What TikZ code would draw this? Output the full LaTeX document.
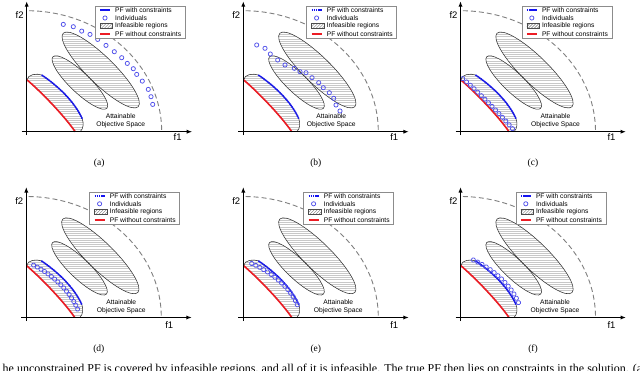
\documentclass[tikz,border=0pt]{standalone}
\usepackage{fontspec}
\setmainfont{Liberation Serif}
\setsansfont{Liberation Sans}
\usetikzlibrary{arrows.meta,decorations.markings}
\definecolor{pfblue}{RGB}{20,20,240}
\definecolor{pfred}{RGB}{236,28,36}
\definecolor{indblue}{RGB}{80,80,235}
\definecolor{hatchgray}{RGB}{200,200,200}
\tikzset{
  axisline/.style={line width=1.1pt,-{Latex[length=5.5pt,width=4.2pt]}},
  arcdash/.style={draw=black!50,line width=0.9pt,dash pattern=on 5pt off 3pt},
  infeasline/.style={draw=black!80,line width=0.55pt},
  hatchline/.style={draw=hatchgray,line width=0.35pt},
  bluepf/.style={draw=pfblue,line width=1.6pt,dash pattern=on 1.6pt off 0.5pt},
  redpf/.style={draw=pfred,line width=1.6pt},
  redleg/.style={draw=pfred,line width=1.8pt},
  indiv/.style={draw=indblue,line width=0.75pt},
  legbox/.style={draw=black!45,line width=0.5pt,fill=white,minimum width=90pt,minimum height=32.7pt,inner sep=0pt,anchor=north west},
  legtxt/.style={font=\sffamily\fontsize{6.7}{7}\selectfont,inner sep=0pt,anchor=west},
  axlabel/.style={font=\sffamily\fontsize{9.5}{10}\selectfont,inner sep=0pt},
  regtxt/.style={font=\sffamily\fontsize{6.7}{7.6}\selectfont,align=center,inner sep=0pt},
  captxt/.style={font=\fontsize{9.5}{10}\selectfont,inner sep=0pt},
  indmarks/.style={decorate,decoration={markings,mark=between positions 0 and 1 step #1 with {\draw[indiv] (0,0) circle[radius=2.1];}}}
}
\newcommand\hatchregion[1]{%
  \begin{scope}\clip #1;
    \foreach \hy in {0.6,2.8,...,130} {\draw[hatchline] (-6,\hy) -- (170,\hy);}
  \end{scope}
  \draw[infeasline] #1;}
% #1 x, #2 y (image), #3 letter, #4 legend left, #5 region text x, #6 f1 position, #7 individuals
\newcommand\drawpanel[7]{%
\begin{scope}[shift={(#1,-#2)}]
  \coordinate (#3-ybot) at (0,-3.5);
  \coordinate (#3-ytip) at (0,130.5);
  \coordinate (#3-xbot) at (-5,0);
  \coordinate (#3-xtip) at (165.5,0);
  \draw[arcdash] (89:135 and 121) arc[start angle=89,end angle=0,x radius=135,y radius=121];
  \hatchregion{[rotate around={-44.4:(74,61.7)}] (74,61.7) ellipse[x radius=52.5,y radius=13.5]}
  \hatchregion{[rotate around={-43.7:(53.2,49.2)}] (53.2,49.2) ellipse[x radius=37.3,y radius=10]}
  \hatchregion{(0.3,51.8) .. controls (12,42) and (36,18) .. (48.5,0) -- (53.5,0)
     .. controls (57,3) and (57,9) .. (55.5,13)
     .. controls (48,30) and (31,46) .. (15,56.7)
     .. controls (10,58.5) and (1,57.5) .. (0.3,51.8) -- cycle}
  \draw[redpf] (0.3,51.8) .. controls (12,42) and (36,18) .. (48.5,0);
  \draw[bluepf] (15,56.7) .. controls (31,46) and (48,30) .. (55.5,13);
  #7
  \draw[axisline] (#3-ybot) -- (#3-ytip);
  \draw[axisline] (#3-xbot) -- (#3-xtip);
  \node[axlabel] (#3-f2) at (-7,116.5) {f2};
  \node[axlabel] (#3-f1) at (#6) {f1};
  \node[legbox] (#3-leg) at (#4,126) {};
  \draw[bluepf] ({#4+5.3},121.8) -- ({#4+15.3},121.8);
  \node[legtxt] (#3-t1) at ({#4+20.3},121.8) {PF with constraints};
  \draw[indiv] ({#4+10.3},113.7) circle[radius=2.1];
  \node[legtxt] (#3-t2) at ({#4+20.3},113.7) {Individuals};
  \begin{scope}
    \clip ({#4+5.3},103.1) rectangle ({#4+18},108.1);
    \foreach \hd in {-6,-3,...,15} {\draw[draw=black!55,line width=0.4pt] ({#4+5.3+\hd},102) -- ++(7,7);}
  \end{scope}
  \draw[draw=black!70,line width=0.5pt] ({#4+5.3},103.1) rectangle ({#4+18},108.1);
  \node[legtxt] (#3-t3) at ({#4+20.3},105.6) {Infeasible regions};
  \draw[redleg] ({#4+5.3},97.5) -- ({#4+15.3},97.5);
  \node[legtxt] (#3-t4) at ({#4+20.3},97.5) {PF without constraints};
  \node[regtxt] (#3-att) at (#5,11) {Attainable\\Objective Space};
  \node[captxt] (#3-cap) at (72.5,-32) {(#3)};
\end{scope}}

\begin{document}
\begin{tikzpicture}[x=1pt,y=1pt]
\useasboundingbox (0,-370) rectangle (640,0);
\clip (0,-370) rectangle (640,0);
\fill[white] (0,-370) rectangle (640,0);

\drawpanel{26.7}{131.7}{a}{68}{94}{151,-5.5}{%
  \foreach \px/\py in {36.6/107.3,46.6/105,55/100.6,63.3/97.3,71/92.3,79.3/86.3,87.6/80,95/74,100.6/68.3,106.6/63,110/57.3,115.6/50.6,121.6/42.3,124.3/35,126/27.3}
    {\draw[indiv] (\px,\py) circle[radius=2.1];}}

\drawpanel{243.3}{131.7}{b}{63}{88}{151,-5.5}{%
  \foreach \px/\py in {13.4/86.7,21.7/83.4,27/77.7,34.4/71.7,41.7/66.7,51/63.4,56.7/60,62.7/59,68.7/54,75.4/49,80/44,86/39,90.4/33.4,92.7/26.7,96.7/20.7}
    {\draw[indiv] (\px,\py) circle[radius=2.1];}}

\drawpanel{460.5}{131.7}{c}{61}{95}{151,-5.5}{%
  \path[indmarks=0.0714] (2.2,53) .. controls (14,43.5) and (38,19.5) .. (52,3);}

\drawpanel{26.3}{317.5}{d}{63}{95}{143,-8}{%
  \path[indmarks=0.06666] (7.3,52.4) .. controls (22,45) and (42,30) .. (51.3,8.4);}

\drawpanel{243.3}{317.5}{e}{60}{95}{151,-8}{%
  \path[indmarks=0.0714] (8.4,54) .. controls (25,47) and (46,32) .. (54,12.7);}

\drawpanel{460.5}{317.5}{f}{55}{94.5}{151,-8}{%
  \path[indmarks=0.0769] (12.8,57.5) .. controls (30,50) and (50,34) .. (58,14.8);}

\node[anchor=base west,inner sep=0pt,font=\fontsize{12}{14}\selectfont] (btext) at (2.5,-372)
  {he unconstrained PF is covered by infeasible regions, and all of it is infeasible. The true PF then lies on constraints in the solution. (a)-(c) show the};
\end{tikzpicture}
\end{document}
